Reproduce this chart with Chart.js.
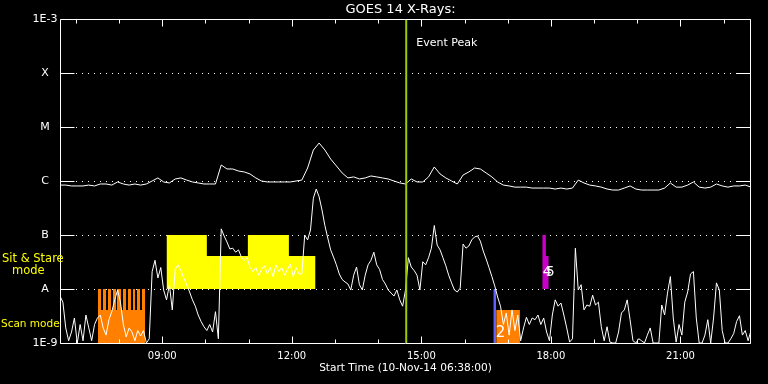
<!DOCTYPE html>
<html><head><meta charset="utf-8">
<script src="https://cdn.jsdelivr.net/npm/chart.js@4.4.0/dist/chart.umd.min.js"></script>
<style>html,body{margin:0;padding:0;background:#000;}#wrap{width:768px;height:384px;}</style>
</head><body><div id="wrap"><canvas id="c" width="768" height="384"></canvas></div>
<script>
// ---- time range ----
const START = '06:38';
const END = '22:38';
const titleText = 'GOES 14 X-Rays:';
const xTitle = 'Start Time (10-Nov-14 06:38:00)';

// ---- long channel (1-8 A), 8-minute cadence from START, W/m^2 ----
const longCadenceMin = 8;
const longFlux = [
 8.4e-7,8.4e-7,8.1e-7,8.1e-7,8.1e-7,8.4e-7,8.1e-7,8.8e-7,8.8e-7,8.4e-7,
 9.6e-7,8.8e-7,8.4e-7,8.8e-7,8.4e-7,8.8e-7,1.0e-6,1.14e-6,9.6e-7,9.2e-7,
 1.09e-6,1.14e-6,1.04e-6,9.6e-7,9.2e-7,8.8e-7,8.8e-7,8.8e-7,1.98e-6,1.67e-6,
 1.67e-6,1.53e-6,1.47e-6,1.35e-6,1.14e-6,1.0e-6,9.6e-7,9.6e-7,9.6e-7,9.6e-7,
 9.6e-7,1.0e-6,1.04e-6,1.74e-6,3.75e-6,5.05e-6,3.75e-6,2.55e-6,1.9e-6,1.41e-6,
 1.14e-6,1.19e-6,1.09e-6,1.14e-6,1.24e-6,1.19e-6,1.14e-6,1.09e-6,1.0e-6,9.2e-7,
 8.8e-7,1.09e-6,9.6e-7,9.6e-7,1.19e-6,1.82e-6,1.35e-6,1.14e-6,1.0e-6,8.8e-7,
 1.29e-6,1.47e-6,1.74e-6,1.67e-6,1.41e-6,1.19e-6,9.6e-7,8.4e-7,8.1e-7,7.7e-7,
 7.7e-7,7.7e-7,7.4e-7,7.4e-7,7.4e-7,7.4e-7,7.1e-7,7.4e-7,7.1e-7,7.4e-7,
 1.04e-6,9.2e-7,8.4e-7,8.1e-7,7.7e-7,7.1e-7,6.8e-7,6.8e-7,7.4e-7,8.1e-7,
 7.1e-7,6.8e-7,6.8e-7,6.8e-7,6.8e-7,7.4e-7,9.2e-7,7.7e-7,7.7e-7,8.4e-7,
 9.6e-7,7.7e-7,7.4e-7,7.7e-7,8.8e-7,8.1e-7,7.7e-7,8.1e-7,8.1e-7,8.4e-7,7.7e-7
];

// ---- short channel (0.5-4 A), 4-minute cadence from START, W/m^2 ----
const shortCadenceMin = 4;
const shortFlux = [
 7.4e-9,5.7e-9,1.9e-9,1.1e-9,1.6e-9,2.9e-9,1.0e-9,2.2e-9,1.1e-9,3.3e-9,
 1.9e-9,1.1e-9,2.2e-9,2.9e-9,3.3e-9,1.9e-9,1.4e-9,2.7e-9,3.8e-9,6.3e-9,
 9.6e-9,5.7e-9,2.2e-9,1.3e-9,1.9e-9,1.6e-9,1.1e-9,1.7e-9,1.35e-9,1.7e-9,
 1.0e-9,1.2e-9,2.1e-8,3.4e-8,1.6e-8,2.5e-8,9.6e-9,6.3e-9,1.2e-8,4.1e-9,
 2.3e-8,2.8e-8,2.2e-8,1.6e-8,1.2e-8,8.8e-9,6.3e-9,4.8e-9,3.3e-9,2.5e-9,
 2.0e-9,1.7e-9,2.2e-9,1.6e-9,3.8e-9,1.2e-9,1.3e-7,9.6e-8,7.4e-8,5.5e-8,
 5.7e-8,4.8e-8,5.3e-8,3.9e-8,3.4e-8,3.8e-8,2.5e-8,2.1e-8,2.5e-8,1.8e-8,
 2.3e-8,2.7e-8,1.9e-8,2.5e-8,1.7e-8,2.8e-8,2.1e-8,2.5e-8,1.8e-8,2.3e-8,
 2.9e-8,1.7e-8,2.5e-8,1.9e-8,1.9e-8,1.0e-7,8.1e-8,1.24e-7,4.8e-7,7.1e-7,
 5.1e-7,2.9e-7,1.5e-7,8.8e-8,5.3e-8,3.9e-8,2.8e-8,1.9e-8,1.5e-8,1.35e-8,
 1.24e-8,9.6e-9,1.8e-8,2.55e-8,1.2e-8,9.6e-9,1.8e-8,2.8e-8,3.4e-8,4.8e-8,
 2.8e-8,2.3e-8,1.5e-8,1.24e-8,9.6e-9,8.4e-9,7.4e-9,9.6e-9,6.3e-9,4.8e-9,
 9.6e-9,3.8e-8,2.55e-8,2.2e-8,1.8e-8,9.6e-9,3.2e-8,2.8e-8,3.8e-8,5.7e-8,
 1.5e-7,6.5e-8,5.3e-8,3.8e-8,2.7e-8,1.8e-8,1.3e-8,9.6e-9,8.8e-9,1.04e-8,
 6.8e-8,5.7e-8,6.25e-8,8.1e-8,9.2e-8,9.6e-8,7.7e-8,5.05e-8,3.6e-8,2.5e-8,
 1.7e-8,1.14e-8,7.1e-9,4.8e-9,2.2e-9,3.6e-9,1.4e-9,4.1e-9,1.7e-9,3.3e-9,
 1.1e-9,1.9e-9,3.0e-9,2.2e-9,2.9e-9,2.7e-9,3.3e-9,2.2e-9,2.9e-9,1.6e-9,
 1.1e-9,3.3e-9,6.3e-9,4.8e-9,5.5e-9,3.3e-9,1.9e-9,1.04e-9,1.2e-9,5.7e-8,
 9.6e-9,1.2e-8,4.1e-9,5.05e-9,4.8e-9,7.7e-9,5.05e-9,5.7e-9,2.0e-9,1.1e-9,
 2.0e-9,1.04e-9,1.0e-9,1.0e-9,1.6e-9,3.6e-9,4.1e-9,6.3e-9,2.7e-9,1.1e-9,
 1.0e-9,1.2e-9,1.1e-9,1.0e-9,1.4e-9,1.9e-9,1.0e-9,1.0e-9,1.0e-9,5.05e-9,
 3.3e-9,8.4e-9,1.7e-8,2.9e-9,1.04e-9,2.2e-9,1.4e-9,5.7e-9,8.8e-9,1.9e-8,
 2.1e-8,2.9e-9,1.0e-9,1.0e-9,1.4e-9,2.7e-9,1.0e-9,2.9e-9,1.3e-8,9.6e-9,
 1.7e-9,1.0e-9,1.0e-9,1.2e-9,1.5e-9,2.5e-9,3.2e-9,1.4e-9,1.7e-9,1.1e-9,1.7e-9
];

// ---- axes ----
const yTickValues = [1e-9,1e-8,1e-7,1e-6,1e-5,1e-4,1e-3];
const yTickLabels = ['1E-9','A','B','C','M','X','1E-3'];
const gridLevels = [1e-8,1e-7,1e-6,1e-5,1e-4];
const xLabelHours = [9,12,15,18,21];

// ---- event peak ----
const eventPeak = '14:39';

// ---- observing modes (step tops, held until next time) ----
const sitStareTimes = ['09:06','10:02','10:59','11:56','12:33'];
const sitStareTop   = [1e-7, 4.1e-8, 1e-7, 4.1e-8, 4.1e-8];
const sitStareBase  = 1e-8;

const scanTimes = ['07:30:47','07:34:58','07:37:44','07:41:55','07:44:41','07:48:51','07:51:38','07:55:48',
                   '07:57:11','08:02:45','08:05:32','08:09:41','08:12:28','08:16:38','08:19:25','08:22:12',
                   '08:24:59','08:29:08','08:31:55','08:36:05'];
const scanTop   = [1e-8,4.1e-9,1e-8,4.1e-9,1e-8,4.1e-9,1e-8,4.1e-9,1e-8,4.1e-9,
                   1e-8,4.1e-9,1e-8,4.1e-9,1e-8,4.1e-9,1e-8,4.1e-9,1e-8,1e-8];
const scanBase  = 1e-9;

const scan2Times = ['16:44','17:17'];
const scan2Top   = [4.1e-9, 4.1e-9];
const blueTimes  = ['16:40','16:44'];
const blueTop    = [1e-8, 1e-8];
const magTimes   = ['17:48','17:53','17:57'];
const magTop     = [1e-7, 4.1e-8, 4.1e-8];

// ---- small markers ----
const markerText  = ['2','4','5'];
const markerTimes = ['16:50','17:55','17:59'];
const markerFlux  = [1.53e-9, 2.06e-8, 2.06e-8];

// ---------------------------------------------------------
const toH = s => { const [h,m,sec] = s.split(':').map(Number); return h + m/60 + (sec||0)/3600; };
const T0 = toH(START), T1 = toH(END);
const series = (arr, cad) => arr.map((v,i) => ({x: T0 + i*cad/60, y: v}));
const steps = (times, tops) => times.map((t,i) => ({x: toH(t), y: tops[i]}));
const FONT = 'DejaVu Sans';
Chart.defaults.font.family = FONT;

function fillSet(data, color, base){
  return {data, backgroundColor: color, borderColor: color, borderWidth: 0,
          pointRadius: 0, stepped: true, fill: {value: base}, tension: 0};
}

const decor = {
  id: 'decor',
  beforeDraw(chart){
    const c = chart.ctx; c.save(); c.fillStyle = '#000';
    c.fillRect(0,0,chart.width,chart.height); c.restore();
  },
  beforeDatasetsDraw(chart){
    const {ctx, chartArea:a, scales:{y}} = chart;
    ctx.save();
    ctx.strokeStyle = '#fff'; ctx.lineWidth = 1; ctx.setLineDash([1,5]);
    gridLevels.forEach(v => {
      const py = Math.round(y.getPixelForValue(v)) + 0.5;
      ctx.beginPath(); ctx.moveTo(a.left + 16, py); ctx.lineTo(a.right - 14, py); ctx.stroke();
    });
    ctx.restore();
  },
  afterDraw(chart){
    const {ctx, chartArea:a, scales:{x,y}} = chart;
    ctx.save();
    ctx.strokeStyle = '#fff'; ctx.lineWidth = 1; ctx.setLineDash([]);
    const L = Math.round(a.left)+0.5, R = Math.round(a.right)-0.5,
          T = Math.round(a.top)+0.5, B = Math.round(a.bottom)+0.5;
    ctx.beginPath();
    ctx.moveTo(L,T); ctx.lineTo(R,T); ctx.lineTo(R,B); ctx.lineTo(L,B); ctx.closePath();
    ctx.stroke();
    // y ticks inward on both sides
    yTickValues.forEach(v => {
      const py = Math.round(y.getPixelForValue(v)) + 0.5;
      ctx.beginPath();
      ctx.moveTo(L, py); ctx.lineTo(L+14, py);
      ctx.moveTo(R, py); ctx.lineTo(R-14, py);
      ctx.stroke();
    });
    // x ticks hourly, inward top & bottom
    for (let h = Math.ceil(T0); h <= T1; h++) {
      const px = Math.round(x.getPixelForValue(h)) + 0.5;
      const len = (h % 3 === 0) ? 7 : 4;
      ctx.beginPath();
      ctx.moveTo(px, T); ctx.lineTo(px, T+len);
      ctx.moveTo(px, B); ctx.lineTo(px, B-len);
      ctx.stroke();
    }
    // texts
    ctx.textBaseline = 'middle';
    ctx.fillStyle = '#fff';
    ctx.font = '13px ' + FONT; ctx.textAlign = 'center';
    ctx.fillText(titleText, (a.left + a.right)/2 - 5, 10);
    ctx.font = '11px ' + FONT; ctx.textAlign = 'left';
    ctx.fillText('Event Peak', x.getPixelForValue(toH(eventPeak)) + 10, 43);
    ctx.fillStyle = '#ffff00';
    ctx.font = '11.5px ' + FONT;
    ctx.fillText('Sit & Stare', 2, 259);
    ctx.fillText('mode', 12, 271);
    ctx.font = '10.5px ' + FONT;
    ctx.fillText('Scan mode', 1, 324);
    ctx.fillStyle = '#fff'; ctx.textAlign = 'center';
    markerText.forEach((t,i) => {
      ctx.font = (t === '2' ? '15px ' : '14px ') + FONT;
      ctx.fillText(t, x.getPixelForValue(toH(markerTimes[i])), y.getPixelForValue(markerFlux[i]));
    });
    ctx.restore();
  }
};

new Chart(document.getElementById('c'), {
  type: 'line',
  data: {
    datasets: [
      {data: [{x: toH(eventPeak), y: 1e-9}, {x: toH(eventPeak), y: 1e-3}],
       borderColor: '#99cc00', borderWidth: 2, pointRadius: 0, fill: false},
      {data: series(longFlux, longCadenceMin), borderColor: '#fff', borderWidth: 1, pointRadius: 0, fill: false, tension: 0},
      {data: series(shortFlux, shortCadenceMin), borderColor: '#fff', borderWidth: 1, pointRadius: 0, fill: false, tension: 0},
      fillSet(steps(sitStareTimes, sitStareTop), '#ffff00', sitStareBase),
      fillSet(steps(scanTimes, scanTop), '#ff8000', scanBase),
      fillSet(steps(scan2Times, scan2Top), '#ff8000', scanBase),
      fillSet(steps(blueTimes, blueTop), '#6060ff', scanBase),
      fillSet(steps(magTimes, magTop), '#c800c8', sitStareBase)
    ]
  },
  options: {
    responsive: false, animation: false, devicePixelRatio: 1, events: [],
    layout: {padding: {left: 0, right: 17, top: 19, bottom: 0}},
    plugins: {legend: {display: false}, tooltip: {enabled: false}, title: {display: false}},
    scales: {
      x: {
        type: 'linear', min: T0, max: T1,
        afterBuildTicks: s => { s.ticks = xLabelHours.map(v => ({value: v})); },
        afterFit: s => { s.height = 41; },
        grid: {display: false}, border: {display: false},
        ticks: {color: '#fff', font: {size: 10}, padding: -1, maxRotation: 0, autoSkip: false,
                callback: v => String(v).padStart(2,'0') + ':00'},
        title: {display: true, text: xTitle, color: '#fff', font: {size: 10.6}, padding: {top: 0, bottom: 9}}
      },
      y: {
        type: 'logarithmic', min: 1e-9, max: 1e-3,
        afterBuildTicks: s => { s.ticks = yTickValues.map(v => ({value: v})); },
        afterFit: s => { s.width = 60; },
        grid: {display: false}, border: {display: false},
        ticks: {color: '#fff', font: {size: 11}, crossAlign: 'center', padding: -5.5, autoSkip: false,
                callback: (v, i) => yTickLabels[i]}
      }
    }
  },
  plugins: [decor]
});
</script>
</body></html>
